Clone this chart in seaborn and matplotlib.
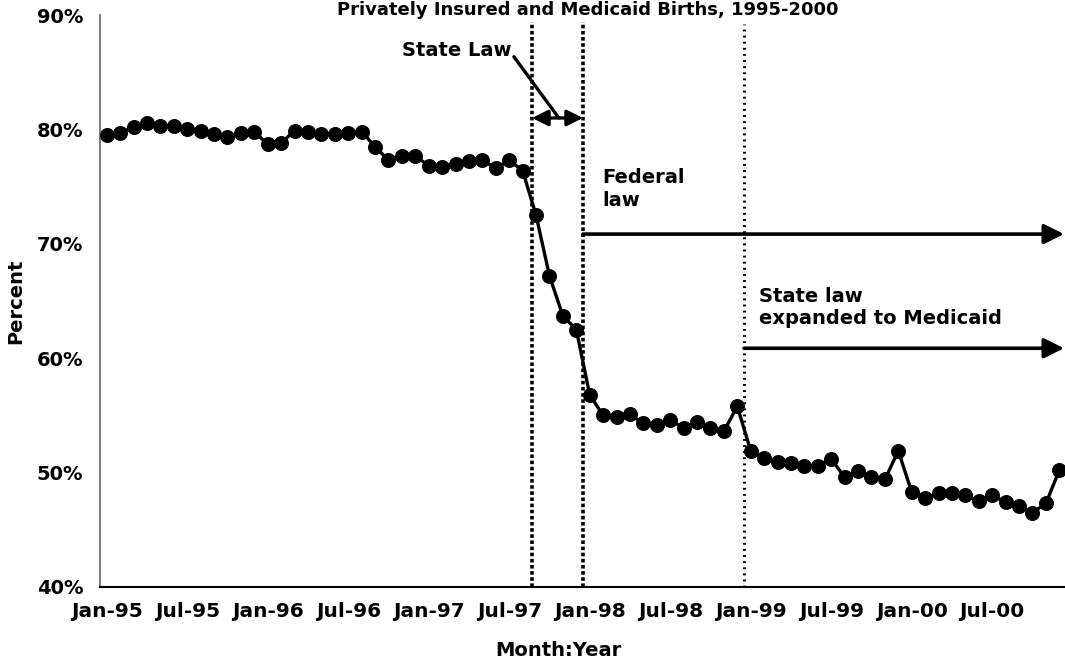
import numpy as np
import pandas as pd
import matplotlib
matplotlib.use("Agg")
import matplotlib.pyplot as plt
from matplotlib.ticker import FixedLocator, FuncFormatter
import seaborn as sns

# ---------------- data ----------------
title = "Privately Insured and Medicaid Births, 1995-2000"
month_index = list(range(72))  # Jan-95 .. Dec-00
percent_private = [
    79.5, 79.7, 80.2, 80.6, 80.3, 80.3, 80.0, 79.9, 79.6, 79.3, 79.7, 79.8,
    78.7, 78.8, 79.9, 79.8, 79.6, 79.6, 79.7, 79.8, 78.5, 77.3, 77.7, 77.7,
    76.8, 76.7, 77.0, 77.2, 77.3, 76.6, 77.3, 76.4, 72.5, 67.2, 63.7, 62.5,
    56.8, 55.0, 54.9, 55.1, 54.3, 54.2, 54.6, 53.9, 54.4, 53.9, 53.6, 55.8,
    51.9, 51.3, 50.9, 50.8, 50.6, 50.6, 51.2, 49.6, 50.1, 49.6, 49.4, 51.9,
    48.3, 47.8, 48.2, 48.2, 48.0, 47.5, 48.0, 47.4, 47.1, 46.5, 47.3, 50.2,
]
tick_labels = ["Jan-95", "Jul-95", "Jan-96", "Jul-96", "Jan-97", "Jul-97",
               "Jan-98", "Jul-98", "Jan-99", "Jul-99", "Jan-00", "Jul-00"]
label_positions = [0, 6, 12, 18, 24, 30, 36, 42, 48, 54, 60, 66]
y_ticks = [40, 50, 60, 70, 80, 90]

# event markers (month positions)
state_law_start = 31.7
federal_law_start = 35.5
medicaid_start = 47.5

df = pd.DataFrame({"month": month_index, "pct": percent_private})

# ---------------- style ----------------
sns.set_style("white")
plt.rcParams["font.family"] = ["DejaVu Sans"]
plt.rcParams["font.weight"] = "bold"
plt.rcParams["axes.labelweight"] = "bold"
plt.rcParams["text.color"] = "black"
plt.rcParams["axes.labelcolor"] = "black"
plt.rcParams["xtick.color"] = "black"
plt.rcParams["ytick.color"] = "black"

fig = plt.figure(figsize=(10.65, 6.68), dpi=100)
ax = fig.add_axes([100 / 1065, 1 - 587 / 668, 966 / 1065, 572 / 668])

sns.lineplot(data=df, x="month", y="pct", ax=ax, color="black", linewidth=2.4,
             marker="o", markersize=10, markeredgecolor="black",
             markerfacecolor="black", zorder=5)

ax.set_xlim(-0.5, 71.5)
ax.set_ylim(40, 90)

# y axis
ax.yaxis.set_major_locator(FixedLocator(y_ticks))
ax.yaxis.set_major_formatter(FuncFormatter(lambda v, p: f"{v:.0f}%"))
ax.tick_params(axis="y", which="major", direction="out", length=5, width=1,
               color="#555555", labelcolor="black", pad=7, labelsize=14)
for lab in ax.get_yticklabels():
    lab.set_fontweight("bold")

# x axis: labels at category centres, tick marks at boundaries
ax.set_xticks(label_positions)
ax.set_xticklabels(tick_labels, fontsize=14.5, fontweight="bold", color="black")
ax.tick_params(axis="x", which="major", length=0, pad=11)
ax.set_xticks([p - 0.5 for p in label_positions], minor=True)
ax.tick_params(axis="x", which="minor", direction="out", length=6, width=1,
               color="black")

for side in ["top", "right"]:
    ax.spines[side].set_visible(False)
ax.spines["left"].set_color("#666666")
ax.spines["left"].set_linewidth(1.2)
ax.spines["bottom"].set_color("black")
ax.spines["bottom"].set_linewidth(1.5)

ax.set_xlabel("Month:Year", fontsize=14, fontweight="bold", color="black")
ax.xaxis.set_label_coords(0.474, -0.095)
ax.set_ylabel("Percent", fontsize=14, fontweight="bold", color="black")
ax.yaxis.set_label_coords(-0.077, 0.5)

# vertical event lines
ax.vlines([state_law_start, federal_law_start], 40, 89.4, colors="black",
          linewidth=2.6, linestyles=[(0, (1, 0.7))], zorder=3)
ax.vlines([medicaid_start], 40, 89.2, colors="black",
          linewidth=2.2, linestyles=[(0, (0.6, 1.4))], zorder=3)

# State law double arrow and pointer
ax.annotate("", xy=(federal_law_start, 81.0), xytext=(state_law_start, 81.0),
            arrowprops=dict(arrowstyle="<|-|>", lw=2.4, color="black",
                            mutation_scale=24, shrinkA=0, shrinkB=0), zorder=6)
ax.plot([30.35, 33.7], [86.35, 81.0], color="black", linewidth=2.4, zorder=6)
ax.text(30.2, 86.9, "State Law", ha="right", va="center", fontsize=14,
        fontweight="bold", color="black")

# Federal law arrow
ax.annotate("", xy=(71.35, 70.85), xytext=(federal_law_start, 70.85),
            arrowprops=dict(arrowstyle="-|>", lw=2.6, color="black",
                            mutation_scale=30, shrinkA=0, shrinkB=0),
            annotation_clip=False, zorder=6)
ax.text(36.95, 76.6, "Federal\nlaw", ha="left", va="top", fontsize=14,
        fontweight="bold", linespacing=1.25, color="black")

# State law expanded to Medicaid arrow
ax.annotate("", xy=(71.35, 60.87), xytext=(medicaid_start, 60.87),
            arrowprops=dict(arrowstyle="-|>", lw=2.6, color="black",
                            mutation_scale=30, shrinkA=0, shrinkB=0),
            annotation_clip=False, zorder=6)
ax.text(48.6, 66.25, "State law\nexpanded to Medicaid", ha="left", va="top",
        fontsize=14, fontweight="bold", linespacing=1.25, color="black")

# title (kept at the very top, as in the reference)
fig.text(588 / 1065, 1 - 1 / 668, title, ha="center", va="top",
         fontsize=13, fontweight="bold", color="black")

fig.savefig("out.png", dpi=100)
